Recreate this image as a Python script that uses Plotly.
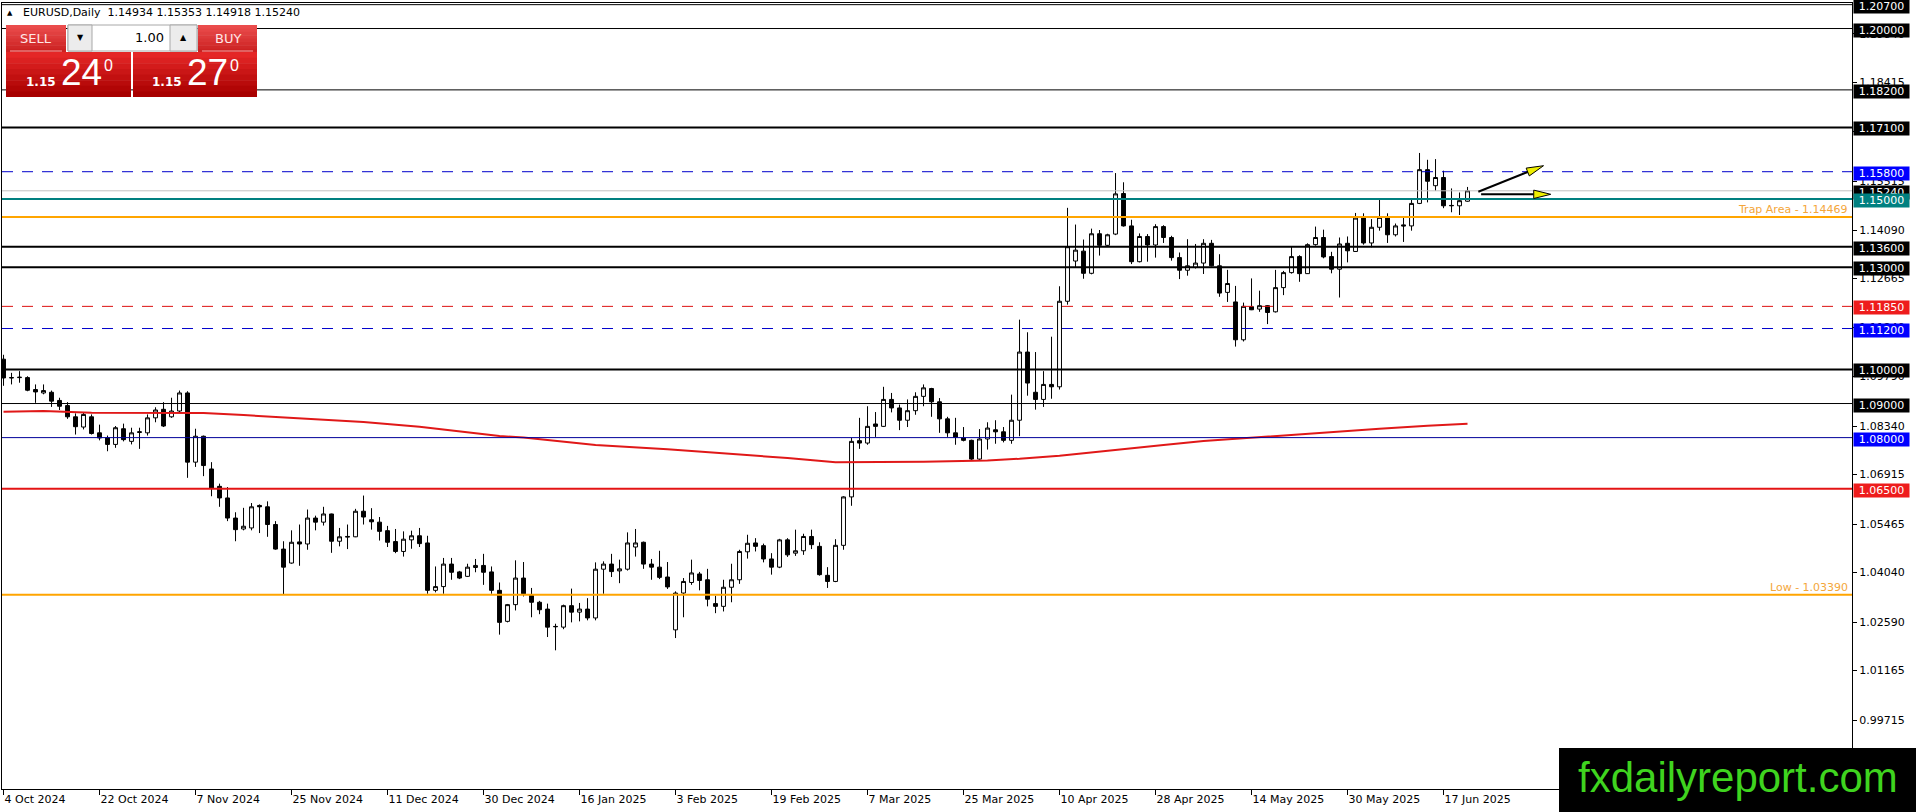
import plotly.graph_objects as go
import pandas as pd

# ---- data ---------------------------------------------------------------
holidays = ["2024-12-25", "2025-01-01"]
dates = [d for d in pd.bdate_range("2024-10-04", "2025-06-20")
         if d.strftime("%Y-%m-%d") not in holidays]

open_ = [
    1.1030, 1.0975, 1.0976, 1.0976, 1.0941, 1.0931, 1.0933, 1.0909, 1.0894, 1.0861,
    1.0831, 1.0861, 1.0814, 1.0799, 1.0780, 1.0826, 1.0789, 1.0815, 1.0814, 1.0858,
    1.0883, 1.0861, 1.0878, 1.0931, 1.0728, 1.0804, 1.0708, 1.0657, 1.0623, 1.0564,
    1.0532, 1.0535, 1.0601, 1.0597, 1.0545, 1.0473, 1.0432, 1.0494, 1.0488, 1.0564,
    1.0552, 1.0576, 1.0496, 1.0508, 1.0509, 1.0584, 1.0559, 1.0552, 1.0527, 1.0495,
    1.0466, 1.0500, 1.0512, 1.0491, 1.0352, 1.0363, 1.0429, 1.0406, 1.0393, 1.0419,
    1.0425, 1.0406, 1.0352, 1.0261, 1.0310, 1.0388, 1.0337, 1.0317, 1.0297, 1.0245,
    1.0244, 1.0307, 1.0288, 1.0297, 1.0271, 1.0414, 1.0429, 1.0409, 1.0414, 1.0479,
    1.0493, 1.0429, 1.0420, 1.0391, 1.0236, 1.0344, 1.0375, 1.0400, 1.0383, 1.0313,
    1.0305, 1.0361, 1.0383, 1.0465, 1.0491, 1.0483, 1.0444, 1.0420, 1.0500, 1.0461,
    1.0468, 1.0510, 1.0481, 1.0396, 1.0378, 1.0484, 1.0626, 1.0791, 1.0784, 1.0840,
    1.0833, 1.0912, 1.0887, 1.0851, 1.0879, 1.0921, 1.0944, 1.0905, 1.0855, 1.0814,
    1.0799, 1.0792, 1.0737, 1.0796, 1.0823, 1.0817, 1.0792, 1.0851, 1.1051, 1.0933,
    1.0912, 1.0956, 1.0949, 1.1200, 1.1318, 1.1347, 1.1282, 1.1398, 1.1364, 1.1397,
    1.1516, 1.1421, 1.1316, 1.1390, 1.1365, 1.1419, 1.1387, 1.1328, 1.1291, 1.1299,
    1.1312, 1.1370, 1.1304, 1.1226, 1.1198, 1.1087, 1.1184, 1.1177, 1.1187, 1.1169,
    1.1240, 1.1284, 1.1331, 1.1281, 1.1366, 1.1387, 1.1331, 1.1294, 1.1370, 1.1346,
    1.1444, 1.1371, 1.1417, 1.1446, 1.1395, 1.1424, 1.1421, 1.1487, 1.1586, 1.1539,
    1.1563, 1.1480, 1.1480, 1.14934,
]
high = [
    1.1043, 1.0990, 1.0995, 1.0980, 1.0956, 1.0956, 1.0938, 1.0917, 1.0904, 1.0871,
    1.0873, 1.0868, 1.0838, 1.0806, 1.0834, 1.0841, 1.0829, 1.0829, 1.0868, 1.0889,
    1.0904, 1.0917, 1.0938, 1.0936, 1.0826, 1.0806, 1.0728, 1.0665, 1.0655, 1.0581,
    1.0594, 1.0608, 1.0604, 1.0613, 1.0555, 1.0496, 1.0528, 1.0545, 1.0589, 1.0571,
    1.0597, 1.0577, 1.0535, 1.0545, 1.0591, 1.0630, 1.0593, 1.0567, 1.0541, 1.0532,
    1.0525, 1.0527, 1.0535, 1.0512, 1.0422, 1.0447, 1.0447, 1.0409, 1.0430, 1.0444,
    1.0459, 1.0422, 1.0375, 1.0312, 1.0440, 1.0435, 1.0359, 1.0321, 1.0313, 1.0254,
    1.0310, 1.0357, 1.0315, 1.0329, 1.0434, 1.0437, 1.0459, 1.0442, 1.0522, 1.0532,
    1.0495, 1.0444, 1.0468, 1.0435, 1.0349, 1.0388, 1.0442, 1.0406, 1.0415, 1.0336,
    1.0383, 1.0430, 1.0471, 1.0515, 1.0505, 1.0489, 1.0461, 1.0503, 1.0505, 1.0530,
    1.0518, 1.0530, 1.0493, 1.0420, 1.0502, 1.0628, 1.0799, 1.0858, 1.0892, 1.0875,
    1.0949, 1.0931, 1.0897, 1.0912, 1.0933, 1.0956, 1.0946, 1.0916, 1.0861, 1.0858,
    1.0831, 1.0794, 1.0825, 1.0845, 1.0851, 1.0831, 1.0926, 1.1146, 1.1109, 1.1051,
    1.0995, 1.1096, 1.1244, 1.1474, 1.1425, 1.1381, 1.1413, 1.1409, 1.1398, 1.1576,
    1.1549, 1.1439, 1.1399, 1.1397, 1.1426, 1.1423, 1.1392, 1.1343, 1.1382, 1.1368,
    1.1382, 1.1380, 1.1338, 1.1292, 1.1245, 1.1196, 1.1267, 1.1231, 1.1189, 1.1292,
    1.1289, 1.1360, 1.1335, 1.1370, 1.1419, 1.1410, 1.1345, 1.1387, 1.1390, 1.1459,
    1.1458, 1.1441, 1.1497, 1.1458, 1.1428, 1.1446, 1.1500, 1.1635, 1.1615, 1.1617,
    1.1583, 1.1531, 1.1519, 1.15353,
]
low = [
    1.0952, 1.0956, 1.0961, 1.0936, 1.0902, 1.0927, 1.0890, 1.0881, 1.0855, 1.0809,
    1.0824, 1.0809, 1.0792, 1.0760, 1.0770, 1.0789, 1.0780, 1.0767, 1.0806, 1.0845,
    1.0831, 1.0858, 1.0873, 1.0682, 1.0714, 1.0687, 1.0628, 1.0597, 1.0555, 1.0496,
    1.0528, 1.0528, 1.0520, 1.0509, 1.0471, 1.0339, 1.0430, 1.0424, 1.0471, 1.0528,
    1.0542, 1.0462, 1.0481, 1.0473, 1.0508, 1.0545, 1.0530, 1.0498, 1.0479, 1.0461,
    1.0451, 1.0474, 1.0479, 1.0342, 1.0346, 1.0342, 1.0383, 1.0385, 1.0391, 1.0405,
    1.0368, 1.0342, 1.0222, 1.0258, 1.0293, 1.0334, 1.0273, 1.0282, 1.0215, 1.0176,
    1.0238, 1.0258, 1.0261, 1.0264, 1.0264, 1.0342, 1.0391, 1.0373, 1.0410, 1.0451,
    1.0415, 1.0383, 1.0385, 1.0356, 1.0212, 1.0273, 1.0368, 1.0352, 1.0305, 1.0285,
    1.0290, 1.0317, 1.0371, 1.0445, 1.0466, 1.0434, 1.0398, 1.0417, 1.0450, 1.0453,
    1.0456, 1.0473, 1.0395, 1.0359, 1.0376, 1.0471, 1.0600, 1.0767, 1.0779, 1.0802,
    1.0831, 1.0874, 1.0822, 1.0831, 1.0867, 1.0892, 1.0861, 1.0814, 1.0802, 1.0779,
    1.0789, 1.0733, 1.0733, 1.0765, 1.0782, 1.0786, 1.0782, 1.0804, 1.0923, 1.0882,
    1.0890, 1.0914, 1.0941, 1.1190, 1.1298, 1.1266, 1.1279, 1.1334, 1.1362, 1.1394,
    1.1419, 1.1309, 1.1314, 1.1316, 1.1328, 1.1371, 1.1319, 1.1265, 1.1275, 1.1296,
    1.1280, 1.1302, 1.1213, 1.1198, 1.1067, 1.1082, 1.1174, 1.1169, 1.1133, 1.1167,
    1.1218, 1.1281, 1.1257, 1.1280, 1.1363, 1.1326, 1.1282, 1.1211, 1.1314, 1.1345,
    1.1366, 1.1358, 1.1407, 1.1371, 1.1390, 1.1374, 1.1407, 1.1485, 1.1490, 1.1524,
    1.1473, 1.1461, 1.1453, 1.14918,
]
close = [
    1.0975, 1.0976, 1.0977, 1.0939, 1.0934, 1.0938, 1.0907, 1.0892, 1.0861, 1.0832,
    1.0868, 1.0812, 1.0799, 1.0780, 1.0829, 1.0794, 1.0814, 1.0817, 1.0858, 1.0881,
    1.0834, 1.0878, 1.0931, 1.0728, 1.0804, 1.0718, 1.0652, 1.0623, 1.0564, 1.0530,
    1.0540, 1.0597, 1.0597, 1.0545, 1.0473, 1.0420, 1.0493, 1.0488, 1.0564, 1.0552,
    1.0576, 1.0496, 1.0509, 1.0510, 1.0584, 1.0567, 1.0553, 1.0525, 1.0493, 1.0466,
    1.0502, 1.0512, 1.0489, 1.0352, 1.0363, 1.0429, 1.0405, 1.0388, 1.0420, 1.0425,
    1.0405, 1.0352, 1.0258, 1.0310, 1.0388, 1.0342, 1.0317, 1.0295, 1.0244, 1.0246,
    1.0307, 1.0288, 1.0297, 1.0271, 1.0414, 1.0429, 1.0407, 1.0415, 1.0491, 1.0491,
    1.0429, 1.0420, 1.0390, 1.0362, 1.0344, 1.0378, 1.0403, 1.0381, 1.0326, 1.0305,
    1.0361, 1.0383, 1.0466, 1.0490, 1.0481, 1.0444, 1.0420, 1.0500, 1.0456, 1.0468,
    1.0510, 1.0486, 1.0398, 1.0378, 1.0484, 1.0626, 1.0789, 1.0784, 1.0833, 1.0833,
    1.0912, 1.0887, 1.0851, 1.0879, 1.0921, 1.0946, 1.0905, 1.0855, 1.0814, 1.0801,
    1.0792, 1.0737, 1.0796, 1.0828, 1.0817, 1.0792, 1.0851, 1.1051, 1.0960, 1.0912,
    1.0956, 1.0949, 1.1200, 1.1360, 1.1350, 1.1282, 1.1398, 1.1364, 1.1395, 1.1515,
    1.1421, 1.1316, 1.1390, 1.1365, 1.1419, 1.1387, 1.1328, 1.1291, 1.1304, 1.1312,
    1.1370, 1.1304, 1.1224, 1.1252, 1.1087, 1.1185, 1.1175, 1.1187, 1.1167, 1.1240,
    1.1284, 1.1331, 1.1281, 1.1366, 1.1387, 1.1330, 1.1294, 1.1368, 1.1348, 1.1444,
    1.1371, 1.1417, 1.1446, 1.1395, 1.1421, 1.1421, 1.1487, 1.1586, 1.1552, 1.1563,
    1.1480, 1.1481, 1.1495, 1.15240,
]

# moving average at a few bars
ma_idx = [0, 5, 11, 25, 30, 39, 45, 52, 62, 65, 74, 83, 91, 98, 104, 115, 123,
          127, 132, 140, 145, 150, 157, 165, 172, 178, 183]
ma_val = [1.0876, 1.0878, 1.0873, 1.0872, 1.0866, 1.0853, 1.0846, 1.0832, 1.0805,
          1.0800, 1.0778, 1.0766, 1.0753, 1.0740, 1.0728, 1.0729, 1.0733, 1.0738,
          1.0747, 1.0765, 1.0778, 1.0790, 1.0802, 1.0815, 1.0826, 1.0835, 1.0841]

# horizontal levels
level_price = [1.20700, 1.20000, 1.18200, 1.17100, 1.15800, 1.15240, 1.15000, 1.14469,
               1.13600, 1.13000, 1.11850, 1.11200, 1.10000, 1.09000, 1.08000, 1.06500,
               1.03390]
level_color = ["black", "black", "black", "black", "#0000cc", "#c0c0c0", "#008080", "#ffa500",
               "black", "black", "#dd1111", "#0000cc", "black", "black", "#000099", "#e41414",
               "#ffa500"]
level_width = [1, 1, 1, 2, 1, 1, 2, 2, 2, 2, 1, 1, 2, 1, 1, 2, 2]
level_dash = ["solid", "solid", "solid", "solid", "11px,9px", "solid", "solid", "solid",
              "solid", "solid", "11px,9px", "11px,9px", "solid", "solid", "solid", "solid",
              "solid"]
level_label_bg = ["black", "black", "black", "black", "#0000ff", "black", "#008080", None,
                  "black", "black", "#ee1c1c", "#0000ff", "black", "black", "#0000ff", "#ee1c1c",
                  None]
text_levels = [1.14469, 1.03390]
text_labels = ["Trap Area - 1.14469", "Low - 1.03390"]

y_ticks = [1.19840, 1.18415, 1.16990, 1.15515, 1.14090, 1.12665, 1.11240, 1.09790,
           1.08340, 1.06915, 1.05465, 1.04040, 1.02590, 1.01165, 0.99715]

# hand-drawn arrows (start / end in bar index and price)
arrow_x0 = [184.35, 184.7]
arrow_y0 = [1.15213, 1.15137]
arrow_x1 = [192.5, 193.4]
arrow_y1 = [1.15976, 1.15137]

symbol = "EURUSD,Daily"
ask = 1.15270

# ---- geometry -----------------------------------------------------------
PL, PT, PW, PH = 2, 3, 1850, 786
X_RANGE = [-0.19, 231.06]
Y_RANGE = [0.97692, 1.20749]
SX = PW / (X_RANGE[1] - X_RANGE[0])
SY = PH / (Y_RANGE[1] - Y_RANGE[0])


def px(x):
    return (x - PL) / PW


def py(y):
    return 1 - (y - PT) / PH


idx = list(range(len(dates)))

fig = go.Figure()
fig.add_trace(go.Candlestick(
    x=idx, open=open_, high=high, low=low, close=close,
    increasing=dict(line=dict(color="black", width=1), fillcolor="white"),
    decreasing=dict(line=dict(color="black", width=1), fillcolor="black"),
    whiskerwidth=0, hoverinfo="skip",
))
fig.add_trace(go.Scatter(
    x=ma_idx, y=ma_val, mode="lines",
    line=dict(color="#e01818", width=2), hoverinfo="skip",
))

shapes = []
annotations = []

for p, c, w, d in zip(level_price, level_color, level_width, level_dash):
    shapes.append(dict(type="line", xref="paper", yref="y", x0=0, x1=1, y0=p, y1=p,
                       line=dict(color=c, width=w, dash=d), layer="above"))

# price labels on the right axis (current price first so teal sits on top)
order = sorted(range(len(level_price)), key=lambda k: 0 if level_price[k] == close[-1] else 1)
for k in order:
    bg = level_label_bg[k]
    if bg is None:
        continue
    annotations.append(dict(
        x=1, xref="paper", xanchor="left", xshift=1,
        y=level_price[k], yref="y", yanchor="middle", yshift=-1.5,
        text=f"{level_price[k]:.5f}", showarrow=False,
        font=dict(color="white", size=11, family="DejaVu Sans"),
        bgcolor=bg, width=55, height=13, borderpad=0, align="center",
    ))

for p, t in zip(text_levels, text_labels):
    annotations.append(dict(
        x=1, xref="paper", xanchor="right", xshift=-2,
        y=p, yref="y", yanchor="bottom", yshift=-1,
        text=t, showarrow=False,
        font=dict(color="#f4a63a", size=11, family="DejaVu Sans"),
    ))

# arrows
for x0, y0, x1, y1 in zip(arrow_x0, arrow_y0, arrow_x1, arrow_y1):
    dx, dy = (x1 - x0) * SX, (y1 - y0) * SY
    ln = (dx * dx + dy * dy) ** 0.5
    ux, uy = dx / ln, dy / ln
    bx, by = -17 * ux, -17 * uy
    nx, ny = -uy * 4.2, ux * 4.2
    base = (x1 + bx / SX, y1 + by / SY)
    c1 = (x1 + (bx + nx) / SX, y1 + (by + ny) / SY)
    c2 = (x1 + (bx - nx) / SX, y1 + (by - ny) / SY)
    shapes.append(dict(type="line", xref="x", yref="y", x0=x0, y0=y0, x1=base[0], y1=base[1],
                       line=dict(color="black", width=2), layer="above"))
    shapes.append(dict(type="path", xref="x", yref="y",
                       path=f"M {x1},{y1} L {c1[0]},{c1[1]} L {c2[0]},{c2[1]} Z",
                       fillcolor="#eeee00", line=dict(color="black", width=1), layer="above"))


# ---- one-click trading panel ---------------------------------------------
def band_rect(x0, y0, x1, y1, top, bottom, n=8):
    out = []
    for k in range(n):
        t = k / (n - 1)
        c = tuple(round(a + (b - a) * t) for a, b in zip(top, bottom))
        ya = y0 + (y1 - y0) * k / n
        yb = y0 + (y1 - y0) * (k + 1) / n + 0.6
        out.append(dict(type="rect", xref="paper", yref="paper",
                        x0=px(x0), x1=px(x1), y0=py(ya), y1=py(min(yb, y1)),
                        fillcolor="rgb(%d,%d,%d)" % c, line=dict(width=0), layer="above"))
    return out


shapes += band_rect(6, 25, 66, 52, (234, 76, 76), (204, 34, 34))
shapes += band_rect(198, 25, 257, 52, (234, 76, 76), (204, 34, 34))
shapes += band_rect(6, 52, 131, 97, (228, 38, 38), (168, 0, 0))
shapes += band_rect(133, 52, 257, 97, (228, 38, 38), (168, 0, 0))
for x0, x1 in [(10, 62), (202, 253)]:
    shapes.append(dict(type="line", xref="paper", yref="paper", x0=px(x0), x1=px(x1),
                       y0=py(51), y1=py(51), line=dict(color="#f4a0a0", width=1), layer="above"))
shapes.append(dict(type="rect", xref="paper", yref="paper", x0=px(68), x1=px(197),
                   y0=py(25), y1=py(51), fillcolor="white",
                   line=dict(color="#a8a8a8", width=1), layer="above"))
for x0, x1 in [(68, 92), (170, 197)]:
    shapes.append(dict(type="rect", xref="paper", yref="paper", x0=px(x0), x1=px(x1),
                       y0=py(25), y1=py(51), fillcolor="#ececec",
                       line=dict(color="#a8a8a8", width=1), layer="above"))


def ptext(x, y, text, size, color="white", family="DejaVu Sans", xanchor="center"):
    annotations.append(dict(x=px(x), y=py(y), xref="paper", yref="paper",
                            xanchor=xanchor, yanchor="middle", text=text, showarrow=False,
                            font=dict(size=size, color=color, family=family)))


ptext(36, 38.5, "SELL", 13, color="#ffe6e6")
ptext(228, 38.5, "BUY", 13, color="#ffe6e6")
ptext(80, 38, "▼", 8, color="black")
ptext(183, 38, "▲", 8, color="black")
ptext(166, 37.5, "1.00", 13, color="black", xanchor="right")

bid_s, ask_s = f"{close[-1]:.5f}", f"{ask:.5f}"
for s, cx in [(bid_s, 0), (ask_s, 126)]:
    ptext(41 + cx, 81.5, f"<b>{s[:4]}</b>", 12)
    ptext(81 + cx, 73, s[4:6], 37, family="Liberation Sans")
    ptext(108 + cx, 66, s[6], 16, family="Liberation Sans")

# header line
ptext(10, 13, "▲", 7, color="black")
ohlc = " ".join(f"{v:.5f}" for v in (open_[-1], high[-1], low[-1], close[-1]))
ptext(21, 13, f"{symbol}  {ohlc}", 11, color="black", xanchor="left")

# watermark
shapes.append(dict(type="rect", xref="paper", yref="paper", x0=px(1559), x1=px(1917),
                   y0=py(748), y1=py(813), fillcolor="black", line=dict(width=0), layer="above"))
ptext(1738, 777, "fxdailyreport.com", 42, color="#3fd41f", family="Liberation Sans")

tick_idx = idx[::12]
tick_text = [f"{dates[i].day} {dates[i].strftime('%b %Y')}" for i in tick_idx]

fig.update_layout(
    width=1916, height=812,
    margin=dict(l=PL, r=1916 - PL - PW, t=PT, b=812 - PT - PH, pad=0),
    paper_bgcolor="white", plot_bgcolor="white",
    showlegend=False,
    font=dict(family="DejaVu Sans", size=11, color="black"),
    shapes=shapes, annotations=annotations,
    xaxis=dict(range=X_RANGE, showgrid=False, zeroline=False, showline=True,
               linecolor="black", linewidth=1, mirror=True,
               ticks="outside", ticklen=5, tickcolor="black",
               tickvals=tick_idx, ticktext=tick_text,
               ticklabelposition="outside right",
               tickfont=dict(size=11, family="DejaVu Sans", color="black"),
               rangeslider=dict(visible=False), fixedrange=True),
    yaxis=dict(side="right", range=Y_RANGE, showgrid=False, zeroline=False,
               showline=True, linecolor="black", linewidth=1, mirror=True,
               ticks="outside", ticklen=4, tickcolor="black",
               tickvals=y_ticks, ticktext=[f"{v:.5f}" for v in y_ticks],
               tickfont=dict(size=11, family="DejaVu Sans", color="black"),
               fixedrange=True),
)

fig.write_html("out.html", config={"displayModeBar": False},
               post_script="document.body.style.margin='0';document.body.style.overflow='hidden';")
